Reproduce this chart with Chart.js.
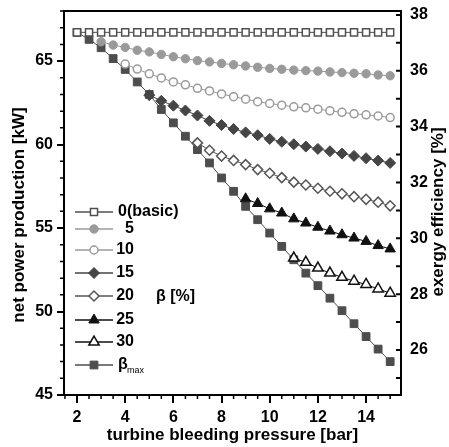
<!DOCTYPE html>
<html>
<head>
<meta charset="utf-8">
<script src="https://cdn.jsdelivr.net/npm/chart.js@4.4.1/dist/chart.umd.min.js"></script>
<style>
  html, body { margin: 0; padding: 0; background: #fff; }
  #wrap { width: 449px; height: 447px; position: relative; }
</style>
</head>
<body>
<div id="wrap"><canvas id="chart"></canvas></div>
<script>
// turbine bleeding pressure [bar]
const pressure = [2, 2.5, 3, 3.5, 4, 4.5, 5, 5.5, 6, 6.5, 7, 7.5, 8, 8.5, 9, 9.5, 10, 10.5, 11, 11.5, 12, 12.5, 13, 13.5, 14, 14.5, 15];

// net power production [kW] for each beta
const basic   = [66.72, 66.72, 66.72, 66.72, 66.72, 66.72, 66.72, 66.72, 66.72, 66.72, 66.72, 66.72, 66.72, 66.72, 66.72, 66.72, 66.72, 66.72, 66.72, 66.72, 66.72, 66.72, 66.72, 66.72, 66.72, 66.72, 66.72];
const beta5   = [null, null, 66.16, 65.96, 65.82, 65.65, 65.55, 65.40, 65.26, 65.14, 65.03, 64.95, 64.86, 64.78, 64.71, 64.63, 64.56, 64.51, 64.46, 64.43, 64.40, 64.35, 64.31, 64.27, 64.24, 64.17, 64.12];
const beta10  = [null, null, null, null, 64.82, 64.52, 64.24, 63.99, 63.75, 63.58, 63.37, 63.21, 63.03, 62.87, 62.72, 62.57, 62.46, 62.36, 62.26, 62.20, 62.12, 62.02, 61.93, 61.84, 61.78, 61.71, 61.62];
const beta15  = [null, null, null, null, null, null, 62.96, 62.62, 62.33, 62.04, 61.74, 61.42, 61.17, 60.93, 60.73, 60.56, 60.34, 60.17, 60.02, 59.88, 59.74, 59.60, 59.46, 59.32, 59.18, 59.04, 58.90];
const beta20  = [null, null, null, null, null, null, null, null, null, null, 60.10, 59.66, 59.31, 59.05, 58.80, 58.50, 58.28, 58.02, 57.75, 57.58, 57.38, 57.20, 57.05, 56.88, 56.72, 56.55, 56.33];
const beta25  = [null, null, null, null, null, null, null, null, null, null, null, null, null, null, 56.75, 56.47, 56.15, 55.90, 55.55, 55.30, 55.05, 54.82, 54.60, 54.40, 54.20, 53.95, 53.75];
const beta30  = [null, null, null, null, null, null, null, null, null, null, null, null, null, null, null, null, null, null, 53.20, 52.95, 52.60, 52.30, 52.05, 51.82, 51.62, 51.35, 51.10];
const betaMax = [66.72, 66.30, 65.80, 65.15, 64.50, 63.75, 63.00, 62.10, 61.30, 60.50, 59.70, 58.90, 58.00, 57.20, 56.30, 55.50, 54.70, 53.90, 53.10, 52.30, 51.55, 50.80, 50.05, 49.27, 48.50, 47.75, 47.00];

const seriesLabels = ['0(basic)', '5', '10', '15', '20', '25', '30', 'βmax'];

const FONT = "'Liberation Sans', Arial, sans-serif";

// pares (x, y) sin los huecos iniciales
const pts = vals => pressure.map((p, i) => ({ x: p, y: vals[i] })).filter(d => d.y !== null);

function serie(idx, vals, style, radius, fill, stroke, bw) {
    return {
        label: seriesLabels[idx],
        data: pts(vals),
        borderColor: stroke,
        borderWidth: 1,
        pointStyle: style,
        pointRadius: radius,
        pointBackgroundColor: fill,
        pointBorderColor: stroke,
        pointBorderWidth: bw,
        fill: false,
        tension: 0
    };
}

const datasets = [
    serie(0, basic,   'rect',    5,   '#fff',    '#505050', 1.5),
    serie(1, beta5,   'circle',  4.2, '#9a9a9a', '#9a9a9a', 1),
    serie(2, beta10,  'circle',  4,   '#fff',    '#9a9a9a', 1.5),
    serie(3, beta15,  'rectRot', 5.5, '#454545', '#454545', 1),
    serie(4, beta20,  'rectRot', 5,   '#fff',    '#555',    1.5),
    serie(5, beta25,  'triangle',6,   '#111',    '#111',    1),
    serie(6, beta30,  'triangle',6,   '#fff',    '#111',    1.5),
    serie(7, betaMax, 'rect',    5.5, '#4d4d4d', '#4d4d4d', 1)
];

// leyenda dentro del área, títulos de ejes y ticks menores
const legendRows = [212, 229, 250, 273, 296, 320, 342, 365];

const decorations = {
    id: 'decorations',
    afterDraw(chart) {
        const { ctx, chartArea: a, scales } = chart;
        const sx = scales.x, sy = scales.y, sy2 = scales.y2;
        ctx.save();

        // marco superior
        ctx.strokeStyle = '#000';
        ctx.lineWidth = 2;
        ctx.beginPath();
        ctx.moveTo(a.left - 1, a.top); ctx.lineTo(a.right + 1, a.top);
        ctx.stroke();

        // ticks menores
        ctx.lineWidth = 1.5;
        ctx.beginPath();
        for (let v = 46; v <= 68; v++) {
            if (v % 5 === 0) continue;
            const py = sy.getPixelForValue(v);
            ctx.moveTo(a.left - 4, py); ctx.lineTo(a.left, py);
        }
        for (let v = 1.5; v <= 15.5; v += 0.5) {
            if (v % 2 === 0 || v < sx.min || v > sx.max) continue;
            const px = sx.getPixelForValue(v);
            ctx.moveTo(px, a.bottom); ctx.lineTo(px, a.bottom + 4);
        }
        ctx.stroke();
        ctx.lineWidth = 2;
        ctx.beginPath();
        for (let v = 25; v <= 38; v++) {
            const py = sy2.getPixelForValue(v);
            ctx.moveTo(a.right - 5, py); ctx.lineTo(a.right, py);
        }
        ctx.stroke();

        // títulos de ejes
        ctx.fillStyle = '#000';
        ctx.font = `bold 17px ${FONT}`;
        ctx.textAlign = 'center';
        ctx.textBaseline = 'middle';
        ctx.fillText('turbine bleeding pressure [bar]', (a.left + a.right) / 2, 435);
        ctx.save();
        ctx.translate(19, 215); ctx.rotate(-Math.PI / 2);
        ctx.fillText('net power production [kW]', 0, 0);
        ctx.restore();
        ctx.save();
        ctx.translate(438, 212); ctx.rotate(-Math.PI / 2);
        ctx.fillText('exergy efficiency [%]', 0, 0);
        ctx.restore();

        // leyenda
        const helpers = Chart.helpers;
        chart.data.datasets.forEach((ds, i) => {
            const y = legendRows[i];
            ctx.strokeStyle = ds.borderColor;
            ctx.lineWidth = 1.5;
            ctx.beginPath(); ctx.moveTo(75, y); ctx.lineTo(113, y); ctx.stroke();
            ctx.fillStyle = ds.pointBackgroundColor;
            ctx.strokeStyle = ds.pointBorderColor;
            ctx.lineWidth = ds.pointBorderWidth;
            helpers.drawPoint(ctx, { pointStyle: ds.pointStyle, radius: ds.pointRadius, rotation: 0, borderWidth: ds.pointBorderWidth }, 94, y);

            ctx.fillStyle = '#000';
            ctx.font = `bold 16px ${FONT}`;
            ctx.textBaseline = 'middle';
            const lbl = ds.label;
            if (/^\d+$/.test(lbl)) {
                ctx.textAlign = 'right';
                ctx.fillText(lbl, 134, y);
            } else if (lbl.startsWith('β') && lbl.length > 1) {
                ctx.textAlign = 'left';
                ctx.fillText('β', 118, y);
                ctx.font = `9px ${FONT}`;
                ctx.fillText(lbl.slice(1), 127, y + 6);
            } else {
                ctx.textAlign = 'left';
                ctx.fillText(lbl, 118, y);
            }
        });
        ctx.font = `bold 16px ${FONT}`;
        ctx.textAlign = 'left';
        ctx.fillText('β [%]', 156, 297);

        ctx.restore();
    }
};

const tickFont = { family: FONT, size: 16, weight: 'bold' };

// fija el área de dibujo: sin márgenes automáticos por las etiquetas
const fitY = w => s => { s.width = w; s.paddingTop = 0; s.paddingBottom = 0; };

new Chart(document.getElementById('chart'), {
    type: 'line',
    data: { datasets },
    options: {
        responsive: true,
        maintainAspectRatio: false,
        animation: false,
        layout: { padding: { top: 11, left: 0, right: 0, bottom: 0 } },
        plugins: { legend: { display: false }, tooltip: { enabled: false } },
        scales: {
            x: {
                type: 'linear',
                min: 1.46, max: 15.45,
                ticks: { stepSize: 2, includeBounds: false, font: tickFont, color: '#000', padding: 5 },
                grid: { display: true, drawOnChartArea: false, drawTicks: true, tickLength: 8, color: '#000', lineWidth: 2 },
                border: { display: true, color: '#000', width: 2 },
                afterFit: s => { s.height = 52; s.paddingLeft = 0; s.paddingRight = 0; }
            },
            y: {
                position: 'left',
                min: 45, max: 68,
                ticks: { stepSize: 5, includeBounds: false, font: tickFont, color: '#000', padding: 4 },
                grid: { display: true, drawOnChartArea: false, drawTicks: true, tickLength: 7, color: '#000', lineWidth: 2 },
                border: { display: true, color: '#000', width: 2 },
                afterFit: fitY(64)
            },
            y2: {
                position: 'right',
                min: 24.39, max: 38.14,
                ticks: { stepSize: 2, includeBounds: false, font: tickFont, color: '#000', padding: 9 },
                grid: { display: false, drawTicks: false },
                border: { display: true, color: '#000', width: 2 },
                afterFit: fitY(48)
            }
        }
    },
    plugins: [decorations]
});
</script>
</body>
</html>
